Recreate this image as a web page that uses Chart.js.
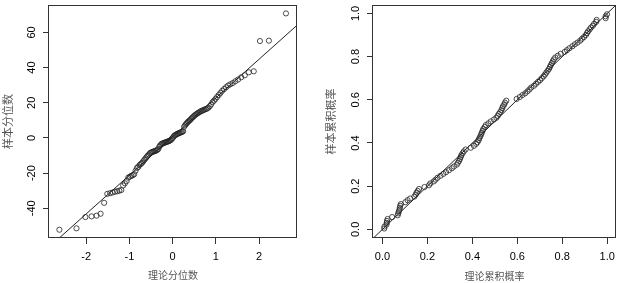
<!DOCTYPE html>
<html><head><meta charset="utf-8">
<script src="https://cdn.jsdelivr.net/npm/chart.js@4.4.1/dist/chart.umd.min.js"></script>
<style>
html,body{margin:0;padding:0;background:#fff;width:621px;height:283px;overflow:hidden}
canvas{position:absolute;top:0}
#c1{left:0}
#c2{left:310px}
</style></head><body>
<canvas id="c1" width="310" height="283"></canvas>
<canvas id="c2" width="311" height="283"></canvas>
<script>
// ---- Q-Q plot (left) ----
const qqTheoretical = [-2.62,-2.225,-2.018,-1.875,-1.761,-1.667,-1.585,-1.512,-1.447,-1.388,-1.333,-1.282,-1.234,-1.188,-1.145,-1.105,-1.065,-1.027,-0.991,-0.956,-0.922,-0.889,-0.857,-0.826,-0.796,-0.766,-0.737,-0.709,-0.681,-0.654,-0.627,-0.601,-0.575,-0.549,-0.524,-0.499,-0.475,-0.451,-0.427,-0.403,-0.380,-0.356,-0.333,-0.310,-0.288,-0.265,-0.243,-0.220,-0.198,-0.176,-0.154,-0.131,-0.109,-0.087,-0.065,-0.044,-0.022,0,0.022,0.044,0.065,0.087,0.109,0.131,0.154,0.176,0.198,0.220,0.243,0.265,0.288,0.310,0.333,0.356,0.380,0.403,0.427,0.451,0.475,0.499,0.524,0.549,0.575,0.601,0.627,0.654,0.681,0.709,0.737,0.766,0.796,0.826,0.857,0.889,0.922,0.956,0.991,1.027,1.065,1.105,1.145,1.188,1.234,1.282,1.333,1.388,1.447,1.512,1.585,1.667,1.761,1.875,2.018,2.225,2.62];
const qqSample = [-52.2,-51.4,-45.0,-44.6,-44.2,-43.1,-36.9,-31.8,-31.4,-31.0,-30.6,-30.3,-30.0,-29.6,-27.0,-25.8,-24.5,-22.6,-22.0,-21.6,-21.2,-20.6,-18.6,-17.0,-16.5,-15.4,-14.8,-14.2,-13.3,-12.4,-11.6,-10.8,-10.0,-9.4,-8.6,-8.3,-8.0,-7.8,-7.6,-7.4,-7.1,-6.8,-6.3,-5.0,-4.2,-3.6,-3.3,-3.0,-2.8,-2.6,-2.4,-2.2,-2.0,-1.8,-1.5,-1.2,-0.6,0.0,0.8,1.4,1.7,2.0,2.3,2.6,2.8,3.0,3.3,3.5,3.8,6.4,7.2,7.9,8.6,9.2,9.7,10.2,10.9,11.5,12.0,12.6,13.1,13.6,14.0,14.4,14.8,15.2,15.5,15.8,16.1,16.4,16.7,17.2,18.0,19.0,20.4,21.2,22.2,23.3,24.4,25.6,26.8,27.8,28.8,29.8,30.5,31.2,32.2,33.2,34.5,35.6,37.3,37.9,55.1,55.3,70.8];
const qqLineX = [-3, 3];
const qqLineY = [-65.2, 66.8];
const qqXTicks = [-2, -1, 0, 1, 2];
const qqYTicks = [-40, -20, 0, 20, 40, 60];
const qqXTitle = '理论分位数';
const qqYTitle = '样本分位数';

// ---- P-P plot (right) ----
const ppTheoretical = [0.008,0.009,0.018,0.019,0.020,0.023,0.043,0.068,0.070,0.073,0.076,0.077,0.079,0.082,0.102,0.112,0.123,0.142,0.148,0.152,0.157,0.163,0.187,0.207,0.213,0.228,0.236,0.245,0.258,0.271,0.283,0.296,0.309,0.318,0.331,0.336,0.341,0.345,0.348,0.351,0.356,0.362,0.370,0.393,0.407,0.417,0.423,0.428,0.431,0.435,0.439,0.442,0.446,0.449,0.455,0.460,0.471,0.482,0.496,0.507,0.513,0.518,0.524,0.529,0.533,0.536,0.542,0.545,0.551,0.597,0.611,0.623,0.635,0.645,0.654,0.662,0.674,0.683,0.692,0.701,0.709,0.717,0.723,0.729,0.735,0.741,0.745,0.749,0.754,0.758,0.762,0.769,0.780,0.793,0.811,0.821,0.832,0.845,0.856,0.868,0.880,0.888,0.897,0.905,0.910,0.915,0.922,0.928,0.936,0.942,0.951,0.953,0.993,0.993,0.999];
const ppSample = [0.004,0.013,0.022,0.030,0.039,0.048,0.057,0.065,0.074,0.083,0.091,0.100,0.109,0.117,0.126,0.135,0.143,0.152,0.161,0.170,0.178,0.187,0.196,0.204,0.213,0.222,0.230,0.239,0.248,0.257,0.265,0.274,0.283,0.291,0.300,0.309,0.317,0.326,0.335,0.343,0.352,0.361,0.370,0.378,0.387,0.396,0.404,0.413,0.422,0.430,0.439,0.448,0.457,0.465,0.474,0.483,0.491,0.500,0.509,0.517,0.526,0.535,0.543,0.552,0.561,0.570,0.578,0.587,0.596,0.604,0.613,0.622,0.630,0.639,0.648,0.657,0.665,0.674,0.683,0.691,0.700,0.709,0.717,0.726,0.735,0.743,0.752,0.761,0.770,0.778,0.787,0.796,0.804,0.813,0.822,0.830,0.839,0.848,0.857,0.865,0.874,0.883,0.891,0.900,0.909,0.917,0.926,0.935,0.943,0.952,0.961,0.970,0.978,0.987,0.996];
const ppLineX = [-0.1, 1.1];
const ppLineY = [-0.1, 1.1];
const ppTicks = [0, 0.2, 0.4, 0.6, 0.8, 1.0];
const ppTickLabels = ['0.0', '0.2', '0.4', '0.6', '0.8', '1.0'];
const ppXTitle = '理论累积概率';
const ppYTitle = '样本累积概率';

const SANS = '"Liberation Sans", Arial, Helvetica, sans-serif';
const CJK = '"Noto Sans CJK SC", "Noto Sans", sans-serif';
const INK = '#222';

const boxPlugin = {
  id: 'box',
  afterDraw(chart) {
    const a = chart.chartArea, ctx = chart.ctx;
    const L = Math.round(a.left), T = Math.round(a.top), R = Math.round(a.right), B = Math.round(a.bottom);
    ctx.save();
    ctx.strokeStyle = '#333';
    ctx.lineWidth = 1;
    ctx.strokeRect(L - 0.5, T + 0.5, R - L, B - T - 1);
    ctx.restore();
  }
};

function toPoints(xs, ys) {
  const n = Math.min(xs.length, ys.length);
  const out = [];
  for (let i = 0; i < n; i++) out.push({ x: xs[i], y: ys[i] });
  return out;
}

function makeChart(id, o) {
  const tickFmt = (vals, labels) => (v) => {
    const k = vals.findIndex(t => Math.abs(t - v) < 1e-9);
    return labels ? labels[k] : String(v);
  };
  return new Chart(document.getElementById(id), {
    type: 'scatter',
    data: {
      datasets: [
        {
          data: toPoints(o.px, o.py),
          pointStyle: 'circle',
          pointRadius: 2.6,
          pointBorderWidth: 0.8,
          pointBorderColor: INK,
          pointBackgroundColor: 'rgba(0,0,0,0)',
          showLine: false
        },
        {
          type: 'line',
          data: toPoints(o.lx, o.ly),
          borderColor: INK,
          borderWidth: 1,
          pointRadius: 0,
          fill: false,
          tension: 0,
          clip: 0
        }
      ]
    },
    options: {
      responsive: false,
      animation: false,
      events: [],
      devicePixelRatio: 1,
      layout: { padding: { left: 0, right: o.padRight, top: 3, bottom: 0 } },
      plugins: { legend: { display: false }, tooltip: { enabled: false } },
      scales: {
        x: {
          type: 'linear',
          min: o.xmin, max: o.xmax,
          afterBuildTicks: s => { s.ticks = o.xt.map(v => ({ value: v })); },
          afterFit: s => { s.height = 45; s.paddingLeft = 0; s.paddingRight = 0; },
          border: { display: false },
          grid: { drawOnChartArea: false, drawTicks: true, tickLength: 6, color: '#333', lineWidth: 1 },
          ticks: { padding: 6, color: '#000', font: { family: SANS, size: 11 }, maxRotation: 0, minRotation: 0, autoSkip: false, callback: tickFmt(o.xt, o.tl) },
          title: { display: true, text: o.xTitle, color: '#555', font: { family: CJK, size: 10 }, padding: { top: 0, bottom: o.xTitlePad } }
        },
        y: {
          type: 'linear',
          min: o.ymin, max: o.ymax,
          afterBuildTicks: s => { s.ticks = o.yt.map(v => ({ value: v })); },
          afterFit: s => { s.width = o.yAxisW; s.paddingTop = 0; s.paddingBottom = 0; },
          border: { display: false },
          grid: { drawOnChartArea: false, drawTicks: true, tickLength: 6, color: '#333', lineWidth: 1 },
          ticks: { padding: 3, color: '#000', font: { family: SANS, size: 11 }, minRotation: 90, maxRotation: 90, crossAlign: 'center', autoSkip: false, callback: tickFmt(o.yt, o.tl) },
          title: { display: true, text: o.yTitle, color: '#555', font: { family: CJK, size: 11 }, padding: { top: o.yTitlePad, bottom: 0 } }
        }
      }
    },
    plugins: [boxPlugin]
  });
}

makeChart('c1', {
  px: qqTheoretical, py: qqSample, lx: qqLineX, ly: qqLineY,
  xmin: -2.86, xmax: 2.875, ymin: -56.9, ymax: 75.7,
  xt: qqXTicks, yt: qqYTicks, tl: null,
  xTitle: qqXTitle, yTitle: qqYTitle,
  padRight: 13, yAxisW: 49, yTitlePad: 1.7, xTitlePad: 2
});

makeChart('c2', {
  px: ppTheoretical, py: ppSample, lx: ppLineX, ly: ppLineY,
  xmin: -0.042, xmax: 1.04, ymin: -0.04, ymax: 1.04,
  xt: ppTicks, yt: ppTicks, tl: ppTickLabels,
  xTitle: ppXTitle, yTitle: ppYTitle,
  padRight: 2, yAxisW: 63, yTitlePad: 14.1, xTitlePad: 0.5
});
</script>
</body></html>
